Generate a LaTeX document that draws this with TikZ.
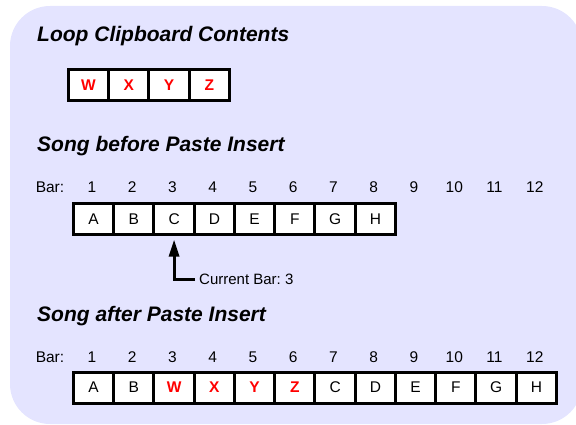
\documentclass[tikz,border=0pt]{standalone}
\usepackage{fontspec}
\setmainfont{Liberation Sans}
\usepackage{tikz}
\usetikzlibrary{arrows.meta}

\definecolor{panelbg}{RGB}{228,228,255}
\definecolor{pastered}{RGB}{255,0,0}

\begin{document}
\begin{tikzpicture}[x=1pt, y=-1pt,
    title/.style={anchor=base west, inner sep=0pt, font=\fontsize{21}{25}\selectfont\bfseries\itshape},
    cell/.style={draw, line width=3pt, fill=white, minimum width=40.25pt, minimum height=31pt, inner sep=0pt, font=\fontsize{15.5}{18}\selectfont},
    pasted/.style={cell, text=pastered, font=\fontsize{15.5}{18}\selectfont\bfseries},
    barno/.style={inner sep=0pt, font=\fontsize{15.5}{18}\selectfont}]
            % Panel
            \clip (0,0) rectangle (576,425);
            \fill[panelbg, rounded corners=40pt] (10,6) rectangle (582,424);

            % Clipboard
            \node[title] (cliptitle) at (37,41.5) {Loop Clipboard Contents};
            \foreach \l [count=\i] in {W,X,Y,Z}
                \node[pasted] (clip\i) at (88.5+40.25*\i-40.25,85) {\l};

            % Song before
            \node[title] (beforetitle) at (37,152) {Song before Paste Insert};
            \node[barno] (beforebar) at (50,187) {Bar:};
            \foreach \i in {1,...,12}
                \node[barno] (beforeno\i) at (92+40.25*\i-40.25,187) {\i};
            \foreach \l [count=\i] in {A,B,C,D,E,F,G,H}
                \node[cell] (before\l) at (93.6+40.25*\i-40.25,219) {\l};

            % Current bar
            \node[barno, anchor=west, font=\fontsize{15}{18}\selectfont] (curbar) at (199,279) {Current Bar:\ 3};
            \draw[line width=3pt, -{Triangle[width=10pt,length=17pt]}, shorten <=4pt, shorten >=3.5pt] (curbar.west) -| (beforeC.south);

            % Song after
            \node[title] (aftertitle) at (37,321) {Song after Paste Insert};
            \node[barno] (afterbar) at (50,357) {Bar:};
            \foreach \i in {1,...,12}
                \node[barno] (afterno\i) at (92+40.25*\i-40.25,357) {\i};
            \foreach \l/\s [count=\i] in {A/cell,B/cell,W/pasted,X/pasted,Y/pasted,Z/pasted,C/cell,D/cell,E/cell,F/cell,G/cell,H/cell}
                \node[\s] (after\i) at (93.6+40.25*\i-40.25,387.5) {\l};
        \end{tikzpicture}
\end{document}
